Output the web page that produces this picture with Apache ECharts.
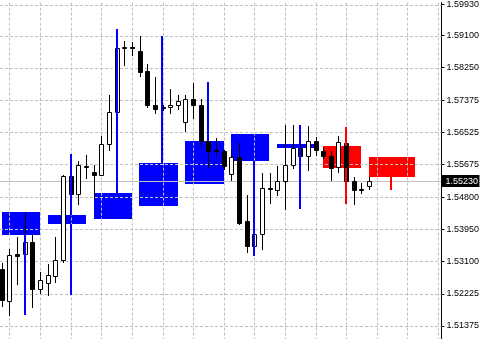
<!DOCTYPE html>
<html><head><meta charset="utf-8">
<script src="https://cdn.jsdelivr.net/npm/echarts@6/dist/echarts.min.js"></script>
<style>html,body{margin:0;padding:0;background:#fff}#c{width:482px;height:339px}</style>
</head><body><div id="c"></div>
<script>
// bar positions on the time axis
const barIndex = [-1,0,1,2,3,4,5,6,7,8,9,10,11,12,13,14,15,16,17,18,19,20,21,22,23,24,25,26,27,28,29,30,31,32,33,34,35,36,37,38,39,40,41,42,43,44,45,46,47];
const opens  = [1.52893,1.52037,1.53284,1.53289,1.53596,1.52365,1.52523,1.52698,1.53131,1.55376,1.54890,1.55635,1.55463,1.55402,1.56221,1.57056,1.58778,1.58804,1.58704,1.58157,1.57267,1.57198,1.57198,1.57251,1.56810,1.57425,1.57267,1.56300,1.56049,1.56018,1.55418,1.55873,1.54169,1.53490,1.53817,1.55040,1.54980,1.55225,1.55666,1.56123,1.55886,1.56300,1.56018,1.55886,1.55595,1.56255,1.55244,1.55019,1.55106];
const closes = [1.52056,1.53263,1.53244,1.53596,1.52365,1.52602,1.52716,1.53131,1.55376,1.54890,1.55666,1.55608,1.55384,1.56221,1.57056,1.58772,1.58804,1.58778,1.58131,1.57251,1.57145,1.57172,1.57267,1.57365,1.57425,1.57267,1.56300,1.56036,1.56023,1.55621,1.55873,1.54124,1.53490,1.53817,1.55048,1.55014,1.55225,1.55648,1.56105,1.55886,1.56300,1.56063,1.55886,1.55577,1.56263,1.55225,1.54980,1.54993,1.55230];
const lows   = [1.51905,1.51660,1.52478,1.53165,1.51879,1.52249,1.52188,1.52539,1.53067,1.54803,1.54626,1.55312,1.54784,1.55384,1.56063,1.57021,1.58323,1.58588,1.58025,1.57206,1.57048,1.57127,1.57048,1.57145,1.56572,1.56897,1.56150,1.55595,1.55886,1.55561,1.55270,1.54082,1.53331,1.53324,1.53421,1.54652,1.54855,1.54478,1.55577,1.55754,1.55516,1.55930,1.55841,1.55252,1.55471,1.55172,1.54626,1.54916,1.55006];
const highs  = [1.53041,1.53421,1.53728,1.54414,1.53833,1.52822,1.53025,1.53728,1.55402,1.55489,1.55772,1.55930,1.55666,1.56432,1.57531,1.58817,1.58968,1.58942,1.59082,1.58350,1.57999,1.57259,1.57674,1.57515,1.57515,1.57848,1.57410,1.56361,1.56387,1.56063,1.56089,1.56237,1.54848,1.53878,1.55444,1.55444,1.55621,1.56723,1.56723,1.56282,1.56704,1.56414,1.56105,1.56018,1.56440,1.56459,1.55331,1.55172,1.55331];

// higher-timeframe boxes
const boxStart  = [-1.08, 4.95, 10.93, 16.9, 22.94, 28.92, 34.88, 40.92, 46.9];
const boxEnd    = [3.92, 9.92, 15.93, 21.9, 27.94, 33.9, 39.88, 45.91, 52.88];
const boxTop    = [1.54406,1.54327,1.54916,1.55709,1.56308,1.56475,1.56210,1.56163,1.55859];
const boxBottom = [1.53791,1.54097,1.54229,1.54565,1.55154,1.55754,1.56123,1.55582,1.55331];
const wickPos   = [1.96, 7.96, 13.93, 19.93, 25.89, 31.89, 37.95, 43.86, 49.83];
const wickHigh  = [1.54406,1.55946,1.59274,1.59082,1.57867,1.56475,1.56723,1.56678,1.55859];
const wickLow   = [1.51660,1.52188,1.54229,1.54565,1.55154,1.53244,1.54478,1.54626,1.54988];
const boxDir    = [1,1,1,1,1,1,1,-1,-1];

// price scale
const priceTicks = [1.59930,1.59100,1.58250,1.57375,1.56525,1.55675,1.54800,1.53950,1.53100,1.52225,1.51375];
const currentPrice = 1.55230;

const X_MIN = -1.3055, X_MAX = 56.397;
const Y_MIN = 1.510255, Y_MAX = 1.599796;
const vGrid = [];
for (let k = 0; k <= 56; k += 4) vGrid.push(k);

const FONT = '"Liberation Sans", Arial, sans-serif';

const chart = echarts.init(document.getElementById('c'), null, {renderer: 'canvas'});

const candleData = barIndex.map((k, i) => [k, opens[i], closes[i], lows[i], highs[i]]);
const boxData = boxStart.map((s, i) => [s, boxEnd[i], boxTop[i], boxBottom[i], boxDir[i]]);
const wickData = wickPos.map((w, i) => [w, wickHigh[i], boxTop[i], boxBottom[i], wickLow[i], boxDir[i]]);

function dirColor(d) { return d > 0 ? '#0000ff' : '#ff0000'; }

chart.setOption({
  animation: false,
  backgroundColor: '#ffffff',
  grid: {left: 0, right: 40, top: 0, bottom: 0, containLabel: false},
  xAxis: {type: 'value', min: X_MIN, max: X_MAX, show: false, splitLine: {show: false}},
  yAxis: {
    type: 'value', position: 'right', min: Y_MIN, max: Y_MAX, scale: true,
    axisLine: {show: true, onZero: false, lineStyle: {color: '#000', width: 1}},
    axisTick: {show: true, length: 3, customValues: priceTicks, lineStyle: {color: '#000'}},
    axisLabel: {show: true, customValues: priceTicks, margin: 5, color: '#000', fontSize: 9, fontFamily: FONT,
      formatter: v => v.toFixed(5)},
    splitLine: {show: false}
  },
  series: [
    { // HTF boxes
      type: 'custom', z: 1, data: boxData,
      renderItem: (params, api) => {
        const p1 = api.coord([api.value(0), api.value(2)]);
        const p2 = api.coord([api.value(1), api.value(3)]);
        const x = Math.round(p1[0]), y = Math.round(p1[1]);
        return {type: 'rect', shape: {x: x, y: y, width: Math.round(p2[0]) - x, height: Math.max(1, Math.round(p2[1]) - y)},
          style: {fill: dirColor(api.value(4))}};
      }
    },
    { // horizontal grid
      type: 'custom', z: 2, data: priceTicks.map(v => [0, v]),
      renderItem: (params, api) => {
        const cs = params.coordSys;
        const y = Math.round(api.coord([0, api.value(1)])[1]) + 0.5;
        return {type: 'line', shape: {x1: cs.x, y1: y, x2: cs.x + cs.width, y2: y},
          style: {stroke: '#c0c0c0', lineWidth: 1, lineDash: [3, 2]}};
      }
    },
    { // vertical grid
      type: 'custom', z: 2, data: vGrid.map(k => [k, 1.55]),
      renderItem: (params, api) => {
        const cs = params.coordSys;
        const x = Math.floor(api.coord([api.value(0), 1.55])[0]) + 0.5;
        return {type: 'line', shape: {x1: x, y1: cs.y, x2: x, y2: cs.y + cs.height},
          style: {stroke: '#c0c0c0', lineWidth: 1, lineDash: [3, 2]}};
      }
    },
    { // price line
      type: 'custom', z: 2, data: [[0, currentPrice]],
      renderItem: (params, api) => {
        const cs = params.coordSys;
        const y = Math.round(api.coord([0, api.value(1)])[1]) + 0.5;
        return {type: 'line', shape: {x1: cs.x, y1: y, x2: cs.x + cs.width, y2: y},
          style: {stroke: '#c0c0c0', lineWidth: 1}};
      }
    },
    { // candles
      type: 'custom', z: 3, data: candleData,
      renderItem: (params, api) => {
        const k = api.value(0), o = api.value(1), c = api.value(2), l = api.value(3), h = api.value(4);
        const pO = api.coord([k, o]), pC = api.coord([k, c]), pL = api.coord([k, l]), pH = api.coord([k, h]);
        const xc = Math.floor(pO[0]);
        const yTop = Math.round(Math.min(pO[1], pC[1])) + 0.5;
        const yBot = Math.round(Math.max(pO[1], pC[1])) + 0.5;
        const bull = c >= o;
        return {type: 'group', children: [
          {type: 'line', shape: {x1: xc + 0.5, y1: Math.round(pH[1]), x2: xc + 0.5, y2: Math.round(pL[1]) + 1},
            style: {stroke: '#000', lineWidth: 1}},
          {type: 'rect', shape: {x: xc - 1.5, y: yTop, width: 4, height: yBot - yTop},
            style: {fill: bull ? '#fff' : '#000', stroke: '#000', lineWidth: 1}}
        ]};
      }
    },
    { // HTF wicks
      type: 'custom', z: 4, data: wickData,
      renderItem: (params, api) => {
        const w = api.value(0);
        const col = dirColor(api.value(5));
        const x = Math.round(api.coord([w, 1.55])[0]) - 1;
        const yH = Math.round(api.coord([w, api.value(1)])[1]);
        const yT = Math.round(api.coord([w, api.value(2)])[1]);
        const yB = Math.round(api.coord([w, api.value(3)])[1]);
        const yL = Math.round(api.coord([w, api.value(4)])[1]);
        const ch = [];
        if (yT - yH > 0) ch.push({type: 'rect', shape: {x: x, y: yH, width: 2, height: yT - yH}, style: {fill: col}});
        if (yL - yB > 0) ch.push({type: 'rect', shape: {x: x, y: yB, width: 2, height: yL - yB}, style: {fill: col}});
        return {type: 'group', children: ch};
      }
    },
    { // current price label
      type: 'custom', z: 6, data: [[0, currentPrice]],
      renderItem: (params, api) => {
        const cs = params.coordSys;
        const y = Math.round(api.coord([0, api.value(1)])[1]);
        const x0 = cs.x + cs.width;
        return {type: 'group', children: [
          {type: 'rect', shape: {x: x0, y: y - 6, width: 38, height: 12}, style: {fill: '#000'}},
          {type: 'text', x: x0 + 4, y: y + 0.5, style: {text: api.value(1).toFixed(5), fill: '#fff', font: '9px ' + FONT,
            verticalAlign: 'middle', align: 'left'}}
        ]};
      }
    }
  ]
});
</script>
</body></html>
